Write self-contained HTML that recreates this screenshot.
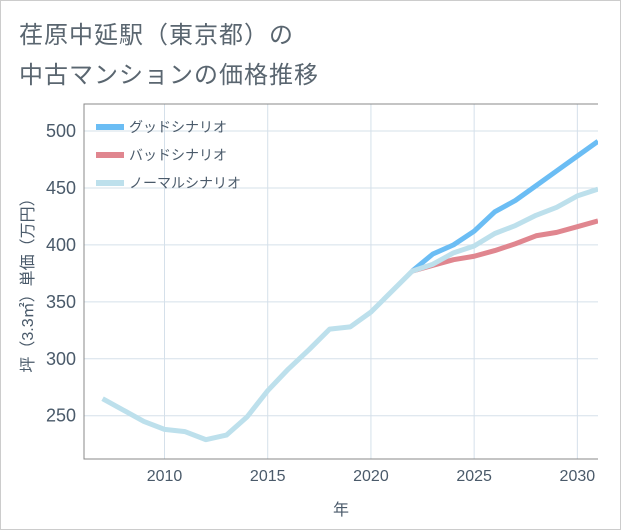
<!DOCTYPE html>
<html><head><meta charset="utf-8"><style>
body{margin:0;background:#fff;}
#wrap{position:relative;width:619px;height:528px;border:1px solid #ccc;background:#fff;font-family:"Liberation Sans","Noto Sans CJK JP",sans-serif;}
.t{position:absolute;left:18px;color:#5a6670;font-size:24px;letter-spacing:1px;}
</style></head><body>
<div id="wrap">
<div class="t" style="top:14px">荏原中延駅（東京都）の</div>
<div class="t" style="top:54px">中古マンションの価格推移</div>
<svg id="svg" width="619" height="528" style="position:absolute;left:0;top:0"></svg>
</div>
<script>
const years=[2007,2008,2009,2010,2011,2012,2013,2014,2015,2016,2017,2018,2019,2020,2021,2022,2023,2024,2025,2026,2027,2028,2029,2030,2031];
const normal=[265,255,245,238,236,229,233,249,272,291,308,326,328,341,359,377,383,393,399,410,417,426,433,443,449];
const scenYears=[2022,2023,2024,2025,2026,2027,2028,2029,2030,2031];
const good=[377,392,400,412,429,439,452,465,478,491];
const bad=[377,382,387,390,395,401,408,411,416,421];
const xTicks=[2010,2015,2020,2025,2030];
const yTicks=[250,300,350,400,450,500];
const L=83,R=597,T=103,B=458,x0=2006.1,x1=2031,y0=212,y1=523.7;
const X=v=>L+(v-x0)/(x1-x0)*(R-L), Y=v=>B-(v-y0)/(y1-y0)*(B-T);
const svg=document.getElementById('svg');const NS='http://www.w3.org/2000/svg';
function mk(t,a,p){const e=document.createElementNS(NS,t);for(const k in a)e.setAttribute(k,a[k]);(p||svg).appendChild(e);return e;}
const clip=mk('clipPath',{id:'c'});mk('rect',{x:L,y:T,width:R-L,height:B-T},clip);
xTicks.forEach(v=>{const l=mk('line',{x1:X(v),x2:X(v),y1:T,y2:B,stroke:'#d5e0ea'});
const t=mk('text',{x:X(v),y:B+22,'text-anchor':'middle','font-size':16,fill:'#4a5a6a'});t.textContent=v;});
yTicks.forEach(v=>{const l=mk('line',{x1:L,x2:R,y1:Y(v),y2:Y(v),stroke:'#d5e0ea'});
const t=mk('text',{x:L-8,y:Y(v)+6,'text-anchor':'end','font-size':18,fill:'#4a5a6a'});t.textContent=v;});
const ax=mk('path',{d:`M${R},${T}H${L}V${B}H${R}`,fill:'none',stroke:'#888'});
function line(xs,ys,col,name){const p=mk('polyline',{points:xs.map((x,i)=>X(x)+','+Y(ys[i])).join(' '),fill:'none',stroke:col,'stroke-width':5,'stroke-linejoin':'round','clip-path':'url(#c)'});}
line(scenYears,good,'#6bbdf4','good-scenario-line');
line(scenYears,bad,'#e0868f','bad-scenario-line');
line(years,normal,'#bde0ec','normal-scenario-line');
[['グッドシナリオ','#6bbdf4','legend-good'],['バッドシナリオ','#e0868f','legend-bad'],['ノーマルシナリオ','#bde0ec','legend-normal']].forEach((d,i)=>{const y=126+i*28;
const g=mk('g',{});
mk('line',{x1:95,x2:123,y1:y,y2:y,stroke:d[1],'stroke-width':6},g);
const t=mk('text',{x:128,y:y+5,'font-size':14,fill:'#4a5a6a'},g);t.textContent=d[0];});
const xt=mk('text',{x:(L+R)/2,y:514,'text-anchor':'middle','font-size':16,fill:'#4a5a6a'});xt.textContent='年';
const yt=mk('text',{x:0,y:0,'text-anchor':'middle','font-size':16,fill:'#4a5a6a',transform:`translate(32,${(T+B)/2}) rotate(-90)`});yt.textContent='坪（3.3㎡）単価（万円）';
</script>
</body></html>
